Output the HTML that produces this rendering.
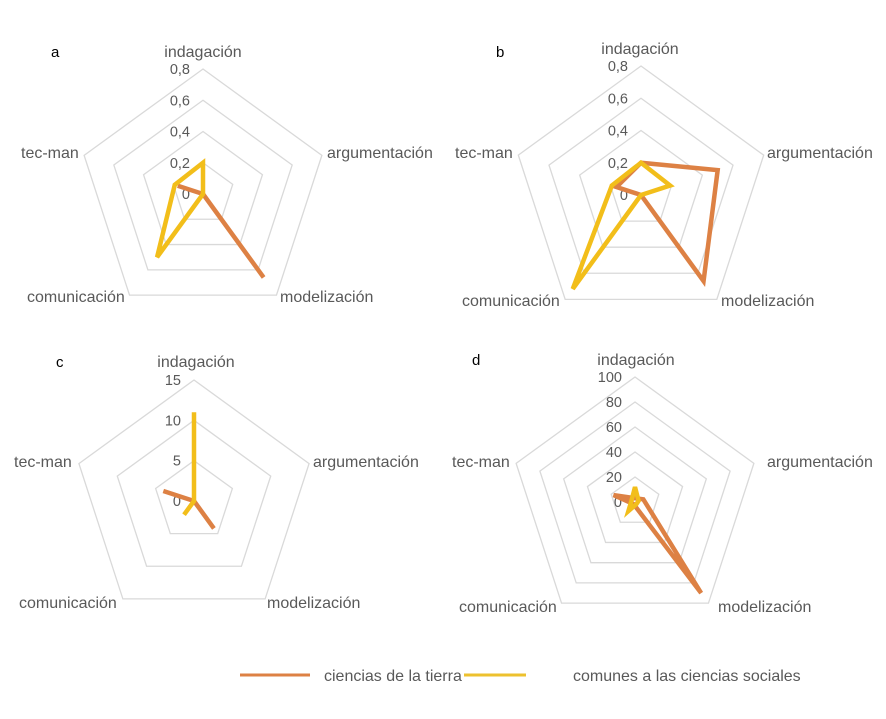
<!DOCTYPE html>
<html><head><meta charset="utf-8"><style>
html,body{margin:0;padding:0;background:#fff;}
svg{display:block;font-family:"Liberation Sans",sans-serif;}
.l{font-size:16px;fill:#595959;}
.t{font-size:14.5px;fill:#595959;text-anchor:end;}
.p{font-size:15px;fill:#000;}
</style></head><body>
<svg id="s" width="886" height="719" viewBox="0 0 886 719">
<text class="p" x="51" y="57">a</text>
<text class="l" x="203" y="57" text-anchor="middle">indagación</text>
<text class="l" x="327" y="158">argumentación</text>
<text class="l" x="280" y="302">modelización</text>
<text class="l" x="27" y="302">comunicación</text>
<text class="l" x="21" y="158">tec-man</text>

<text class="p" x="496" y="57">b</text>
<text class="l" x="640" y="54" text-anchor="middle">indagación</text>
<text class="l" x="767" y="158">argumentación</text>
<text class="l" x="721" y="306">modelización</text>
<text class="l" x="462" y="306">comunicación</text>
<text class="l" x="455" y="158">tec-man</text>

<text class="p" x="56" y="367">c</text>
<text class="l" x="196" y="367" text-anchor="middle">indagación</text>
<text class="l" x="313" y="467">argumentación</text>
<text class="l" x="267" y="608">modelización</text>
<text class="l" x="19" y="608">comunicación</text>
<text class="l" x="14" y="467">tec-man</text>

<text class="p" x="472" y="365">d</text>
<text class="l" x="636" y="365" text-anchor="middle">indagación</text>
<text class="l" x="767" y="467">argumentación</text>
<text class="l" x="718" y="612">modelización</text>
<text class="l" x="459" y="612">comunicación</text>
<text class="l" x="452" y="467">tec-man</text>

<line x1="240" y1="675" x2="310" y2="675" stroke="#DD8144" stroke-width="3"/>
<text class="l" x="324" y="681">ciencias de la tierra</text>
<line x1="464" y1="675" x2="526" y2="675" stroke="#EDC12E" stroke-width="3"/>
<text class="l" x="573" y="681">comunes a las ciencias sociales</text>
</svg>
<script>
var s=document.getElementById('s'),NS='http://www.w3.org/2000/svg';
function el(n,a,txt){var e=document.createElementNS(NS,n);for(var k in a)e.setAttribute(k,a[k]);if(txt!==undefined)e.textContent=txt;s.appendChild(e);return e;}
function pt(cx,cy,r,i){var a=(-90+72*i)*Math.PI/180;return [cx+r*Math.cos(a),cy+r*Math.sin(a)];}
var charts=[
 {cx:203,cy:194,R:125,max:0.8,ticks:['0','0,2','0,4','0,6','0,8'],
  o:[0,0,0.66,0,0.17],y:[0.2,0,0,0.5,0.19]},
 {cx:641,cy:195,R:129,max:0.8,ticks:['0','0,2','0,4','0,6','0,8'],
  o:[0.2,0.5,0.66,0,0.16],y:[0.2,0.19,0,0.72,0.19]},
 {cx:194,cy:501,R:121,max:15,ticks:['0','5','10','15'],
  o:[0,0,4.2,0,4.0],y:[11,0,0,2.1,0]},
 {cx:635,cy:502,R:125,max:100,ticks:['0','20','40','60','80','100'],
  o:[3,7,90,2,18],y:[12,3,2,9,3]}
];
charts.forEach(function(c){
 var n=c.ticks.length-1;
 for(var k=1;k<=n;k++){var r=c.R*k/n,p=[];for(var i=0;i<5;i++)p.push(pt(c.cx,c.cy,r,i).join(','));
  el('polygon',{points:p.join(' '),fill:'none',stroke:'#d9d9d9','stroke-width':1.3});}
 for(var k=0;k<=n;k++){el('text',{'class':'t',x:c.cx-13,y:c.cy-c.R*k/n+5},c.ticks[k]);}
 [['o','#DD8144'],['y','#F2BE1A']].forEach(function(q){
  var p=[];for(var i=0;i<5;i++)p.push(pt(c.cx,c.cy,c.R*c[q[0]][i]/c.max,i).join(','));
  el('polygon',{points:p.join(' '),fill:'none',stroke:q[1],'stroke-width':4.5,'stroke-linejoin':'miter'});
 });
});
</script>
</body></html>
